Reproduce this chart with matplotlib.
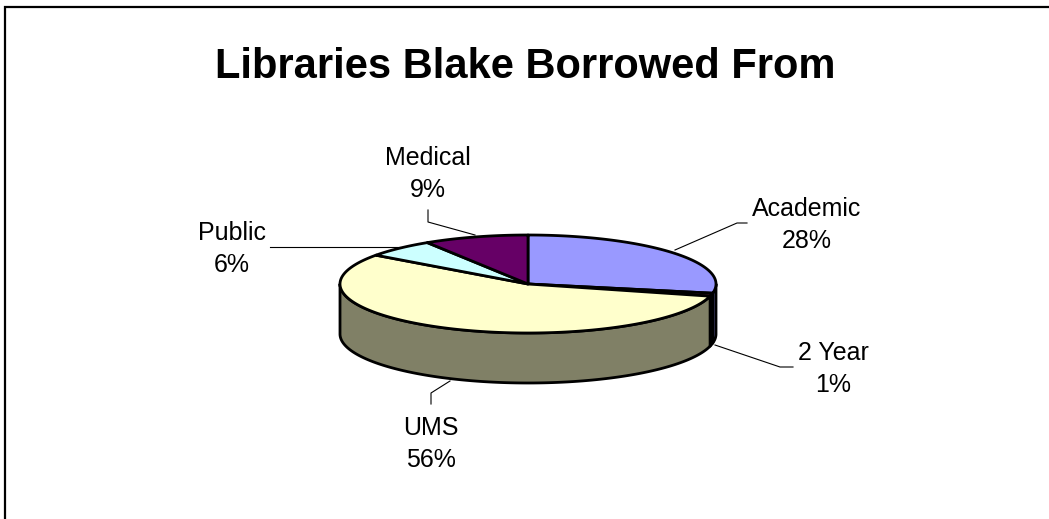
import numpy as np
import matplotlib

matplotlib.use("Agg")
import matplotlib.pyplot as plt
from matplotlib.colors import to_rgb
from matplotlib.patches import Polygon

categories = ["Academic", "2 Year", "UMS", "Public", "Medical"]
shares = [28, 1, 56, 6, 9]
colors = ["#9999FF", "#993366", "#FFFFCC", "#CCFFFF", "#660066"]
title = "Libraries Blake Borrowed From"

# label anchor (x, baseline of first line) and leader line paths, in pixels
label_pos = [(807, 216), (833, 360), (431, 435), (232, 240), (428, 165)]
leaders = [
    [(675, 250), (737, 223), (747, 223)],
    [(715, 345), (780, 367), (793, 367)],
    [(450, 381), (431, 393), (431, 404)],
    [(400, 247), (270, 247)],
    [(475, 235), (428, 222), (428, 210)],
]

W, H = 1049, 519
plt.rcParams["font.family"] = ["Liberation Sans", "DejaVu Sans"]

fig = plt.figure(figsize=(W / 100, H / 100), dpi=100)
ax = fig.add_axes([0, 0, 1, 1])
ax.set_xlim(0, W)
ax.set_ylim(H, 0)
ax.axis("off")

cx, cy, rx, ry, depth = 528, 284, 188, 49, 50


def rim(t0, t1, drop=0.0):
    t = np.radians(np.linspace(t0, t1, max(int(abs(t1 - t0)) * 2, 2)))
    return np.column_stack([cx + rx * np.cos(t), cy - ry * np.sin(t) + drop])


total = sum(shares)
bounds = 90 - 360 * np.concatenate([[0], np.cumsum(shares)]) / total

# sides of the cylinder (only the front half is visible)
for i, color in enumerate(colors):
    hi, lo = bounds[i], bounds[i + 1]
    dark = tuple(c * 0.5 for c in to_rgb(color))
    for k in (-1, 0, 1):
        a, b = max(lo, -180 + 360 * k), min(hi, 360 * k)
        if b <= a:
            continue
        pts = np.vstack([rim(a, b), rim(b, a, depth)])
        ax.add_patch(Polygon(pts, closed=True, facecolor=dark, edgecolor="black",
                             lw=2.0, joinstyle="round", zorder=1))

# top face
for i, color in enumerate(colors):
    pts = np.vstack([[(cx, cy)], rim(bounds[i], bounds[i + 1])])
    ax.add_patch(Polygon(pts, closed=True, facecolor=color, edgecolor="black",
                         lw=2.0, joinstyle="round", zorder=2))

for name, share, (x, y), path in zip(categories, shares, label_pos, leaders):
    pct = f"{share / total * 100:.0f}%"
    ax.text(x, y, name, ha="center", va="baseline", fontsize=18)
    ax.text(x, y + 32, pct, ha="center", va="baseline", fontsize=18)
    px, py = zip(*path)
    ax.plot(px, py, color="black", lw=0.8, zorder=3)

ax.text(525, 78, title, ha="center", va="baseline", fontsize=30, fontweight="bold")

# chart frame (only top and left edges fall inside the picture)
ax.plot([4.5, 4.5, W], [H, 7, 7], color="black", lw=1.6, clip_on=False,
        solid_joinstyle="miter")

fig.savefig("out.png", dpi=100)
